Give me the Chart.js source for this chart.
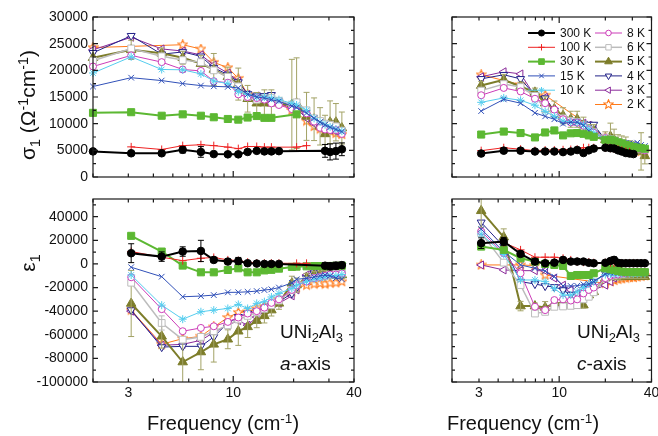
<!DOCTYPE html>
<html>
<head>
<meta charset="utf-8">
<script src="https://cdn.jsdelivr.net/npm/chart.js@4/dist/chart.umd.min.js"></script>
<style>
  html, body { margin: 0; padding: 0; background: #fff; }
  #wrap { position: relative; width: 658px; height: 436px; overflow: hidden;
          font-family: "Liberation Sans", Arial, sans-serif; color: #111; }
  #wrap canvas { position: absolute; left: 0; top: 0; }
  .lbl { position: absolute; white-space: nowrap; line-height: 1; }
  .rot { transform: translate(-50%, -50%) rotate(-90deg); }
  .ctr { transform: translateX(-50%); }
  .sub { font-size: 0.68em; position: relative; top: 0.32em; }
  .sup { font-size: 0.68em; position: relative; top: -0.5em; }
</style>
</head>
<body>
<div id="wrap">
  <canvas id="tl" width="658" height="436"></canvas>
  <canvas id="bl" width="658" height="436"></canvas>
  <canvas id="tr" width="658" height="436"></canvas>
  <canvas id="br" width="658" height="436"></canvas>

  <div class="lbl rot" style="left:27px;top:105px;font-size:21px">σ<span class="sub">1</span> (Ω<span class="sup">-1</span>cm<span class="sup">-1</span>)</div>
  <div class="lbl rot" style="left:27px;top:263px;font-size:21px">ε<span class="sub">1</span></div>
  <div class="lbl ctr" style="left:223px;top:413px;font-size:20px">Frequency (cm<span class="sup">-1</span>)</div>
  <div class="lbl ctr" style="left:523px;top:413px;font-size:20px">Frequency (cm<span class="sup">-1</span>)</div>
  <div class="lbl" style="left:280px;top:322px;font-size:19px">UNi<span class="sub">2</span>Al<span class="sub">3</span></div>
  <div class="lbl" style="left:280px;top:354px;font-size:19px"><i>a</i>-axis</div>
  <div class="lbl" style="left:577px;top:322px;font-size:19px">UNi<span class="sub">2</span>Al<span class="sub">3</span></div>
  <div class="lbl" style="left:577px;top:354px;font-size:19px"><i>c</i>-axis</div>
</div>

<script>
// ─── DATA ────────────────────────────────────────────────────

const TEMPS = ['300 K', '100 K', '30 K', '15 K', '10 K', '8 K', '6 K', '5 K', '4 K', '3 K', '2 K'];

const X_TICK_LABELS = [3, 10, 40];
const X_TICK_MARKS  = [2, 3, 4, 5, 6, 7, 8, 9, 10, 20, 30, 40];
const SIGMA_TICKS   = [0, 5000, 10000, 15000, 20000, 25000, 30000];
const EPS_TICKS     = [-100000, -80000, -60000, -40000, -20000, 0, 20000, 40000];

// a-axis frequencies (cm-1); the first point (2) is the dc value, sigma only
const A_FREQ = [2, 3.1, 4.4, 5.6, 6.9, 8.0, 9.4, 10.6, 11.8, 13.1, 14.3, 15.5, 16.9,
                19.6, 20.7, 23.2, 25.3, 27.1, 28.7, 30.4, 32.5, 34.8];

// a-axis sigma_1
const SA_300 = [4800, 4450, 4450, 5100, 4700, 4300, 4250, 4250, 4700, 4900, 4800, 4800, 4850, null, null, null, null, null, 4900, 4700, 4850, 5200];
const SA_100 = [null, 5650, 5160, 5880, 6050, 5880, 5600, 5320, 5720, 5720, 5600, 5600, null, null, 5600, 5880, null, null, null, null, null, null];
const SA_30  = [12030, 12150, 11490, 11750, 11490, 11200, 10880, 10750, 11150, 11430, 11090, 11090, null, null, 11750, null, null, null, null, null, null, null];
const SA_15  = [16970, 18620, 18080, 17520, 17140, 17000, 16900, 16700, 15500, 15000, 14800, 14500, 14200, 13300, 13000, 12000, 11000, 10300, 9800, 9300, 8900, 8500];
const SA_10  = [19500, 22530, 20160, 20100, 19330, 18000, 17500, 16000, 15500, 15000, 15000, 14800, 14500, 13800, 13500, 12500, 11000, 10300, 9800, 9400, 9000, 8600];
const SA_8   = [20720, 22800, 21540, 20160, 19890, 17960, 17680, 15490, 15000, 14800, 14500, 13800, 13500, 12740, 12500, 11920, 10380, 9230, 8900, 8800, 8800, 8075];
const SA_6   = [21800, 24100, 22630, 21920, 21540, 20000, 18800, 17000, 15000, 14500, 14700, 14800, 14300, 13500, 14000, 12500, 11000, 10500, 10000, 9800, 9500, 8700];
const SA_5   = [22360, 23840, 23190, 22360, 21260, 20160, 18790, 17420, 14670, 13840, 13840, 13840, null, 13560, 13840, 11370, 10830, 9500, 8075, 10270, 10270, 9180];
const SA_4   = [23290, 26480, 23020, 23450, 22630, 20500, 19200, 17800, 15600, 15300, 15200, 15400, 14200, 13500, 13000, 11500, 10500, 10000, 9600, 9200, 8800, 8400];
const SA_3   = [23840, 26200, 24010, 23620, 22900, 21000, 19500, 18000, 15500, 15200, 14500, 14000, 13800, 13000, 12800, 11000, 10000, 9300, 9000, 8800, 8600, 8300];
const SA_2   = [24270, null, null, 24800, 24000, 21500, 20500, 18500, 15500, 15000, 14800, 14500, 14000, 12500, 12000, 10500, 9500, 9000, 8800, 8600, 8200, 8000];
const SA_300_ERR = [0, 400, 400, 600, 1000, 300, 300, 300, 300, 300, 300, 300, 300, 0, 0, 0, 0, 0, 1200, 1500, 1500, 1200];
const SA_5_ERR   = [0, 1800, 1000, 1200, 1500, 3000, 1800, 3000, 2500, 2000, 2500, 2500, 0, 8500, 8500, 4500, 4000, 3500, 3500, 4000, 3500, 3000];

// a-axis epsilon_1
const EA_300 = [null, 9100, 6200, 10500, 11000, 3400, 2000, 2500, 600, 300, 0, 0, 0, null, null, null, null, null, -1500, -2000, -1500, -1000];
const EA_100 = [null, 10500, 5700, 2800, 4800, 5500, 3400, 2800, 1500, 700, 600, 600, 600, null, 500, 500, null, null, null, null, null, null];
const EA_30  = [null, 23800, 10500, -1400, -7100, -7100, -5100, -3700, -7100, -7100, -5500, -5000, -4000, -2500, -2300, -2000, -1800, -1800, -1800, -1700, -1600, -1500];
const EA_15  = [null, -2800, -10800, -27800, -27200, -26400, -24100, -24000, -23600, -23000, -22100, -21500, -20000, -16000, -13000, -12200, -11000, -10000, -9400, -10000, -12000, -13000];
const EA_10  = [null, -9400, -34900, -46800, -40500, -39100, -37700, -34300, -37700, -33400, -32000, -28000, -25000, -20700, -18000, -15000, -13000, -12000, -11000, -10000, -10000, -9000];
const EA_8   = [null, -11300, -38300, -57000, -54200, -52800, -49100, -45400, -42000, -40000, -37000, -33000, -30000, -22000, -18000, -15000, -12000, -11000, -10000, -9000, -9000, -8000];
const EA_6   = [null, -15900, -50000, -64100, -61800, -57000, -52000, -47000, -44000, -41000, -38000, -35000, -31000, -22000, -17000, -14000, -12000, -11000, -10000, -9000, -8500, -8000];
const EA_5   = [null, -33500, -61300, -83100, -74600, -68100, -63800, -57000, -53300, -48000, -44000, -39100, -33400, -16400, -17900, -12000, -9400, -9000, -8500, -9000, -9400, -9400];
const EA_4   = [null, -39100, -70400, -69800, -69800, -61800, -50000, -44800, -42000, -40000, -38000, -35000, -32000, -25000, -20000, -12000, -8000, -6000, -4000, -2000, -1500, -1500];
const EA_3   = [null, -40000, -68900, -68100, -64700, -58000, -51900, -48000, -51900, -45000, -40000, -36300, -33400, -27000, -22000, -9400, -6000, -7000, -8000, -8500, -8000, -7500];
const EA_2   = [null, -39100, -68000, -63300, -61300, -53400, -45400, -41100, -40600, -38000, -36000, -34900, -30000, -23600, -20000, -18000, -17000, -16500, -17000, -16200, -16000, -15000];
const EA_300_ERR = [0, 8000, 4000, 4000, 9000, 2000, 2000, 3000, 1000, 1000, 1000, 1000, 1000, 0, 0, 0, 0, 0, 2500, 3000, 3000, 2500];
const EA_6_ERR   = [0, 0, 6000, 0, 0, 0, 0, 0, 0, 0, 0, 0, 0, 0, 0, 0, 0, 0, 0, 0, 0, 0];
const EA_5_ERR   = [0, 28000, 10000, 20000, 15000, 15000, 8000, 12000, 9000, 6000, 6000, 5000, 5000, 6000, 6000, 4000, 3000, 3000, 3000, 3000, 3000, 3000];

// c-axis frequencies (cm-1)
const C_FREQ = [3.1, 4.35, 5.6, 6.95, 8.1, 9.3, 10.6, 11.9, 13.1, 14.4, 15.6, 16.8,
                20.0, 21.6, 22.8, 24.2, 25.6, 27.2, 28.8, 30.5, 32.3, 34.2, 36.2];

// c-axis sigma_1
const SC_300 = [4400, 4940, 4940, 4780, 4780, 4780, 4670, 4780, 5060, 4500, 5000, 5330, 5490, 5400, 5330, 5000, 4780, 4500, 4400, 4300, null, null, null];
const SC_100 = [4940, 5490, 5210, 4940, 5050, 5050, 5100, 5150, 5200, 5490, 5490, 5490, 5490, 5400, 5300, 5200, 5000, 4800, 4700, null, null, null, null];
const SC_30  = [7960, 8520, 8240, 7420, 8350, 8730, 7800, 8190, 8240, 8100, 7800, 7530, 6970, 7000, 6800, 6500, 6300, 6000, 5800, 5600, 5500, 5400, 5300];
const SC_15  = [12360, 14550, 13840, 12030, 11370, 10830, 10000, 10270, 10270, 9700, 8620, 7800, 7000, 6800, 6600, 6500, 6400, 6400, 6300, 6200, 6430, 6000, 5800];
const SC_10  = [14000, 14830, 14390, 13460, 12300, 11370, 10500, 10300, 10200, 9800, 9000, 8300, 7200, 7000, 6800, 6600, 6400, 6200, 6000, 5800, 5600, 5400, 5200];
const SC_8   = [15330, 16700, 16040, 14670, 13840, 12640, 10830, 10270, 10200, 9600, 8800, 8300, 7300, 7000, 6700, 6400, 6200, 6000, 5800, 5600, 5400, 5200, 5000];
const SC_6   = [16200, 17420, 16860, 15210, 12740, 11920, 11000, 10500, 10300, 9700, 8900, 8400, 7400, 7100, 6800, 6500, 6300, 6100, 5900, 5700, 5500, 5300, 5100];
const SC_5   = [17140, 18240, 16970, 15870, 13840, 12740, 11490, 10830, 10830, 9720, 8620, 8620, 6970, 7600, 6970, 6430, 6200, 6000, 5800, 5600, 5330, 4800, 3960];
const SC_4   = [18400, 19170, 18400, 15330, 14780, 12470, 10550, 10300, 10270, 10000, 9830, 9830, 6970, 7000, 6800, 6500, 6300, 6000, 5800, 5600, 5400, 5200, 5000];
const SC_3   = [18790, 19730, 19330, 15210, 14940, 12300, 10800, 10400, 10300, 10100, 9700, 9500, 7000, 6900, 6700, 6400, 6200, 6000, 5800, 5500, 5300, 5100, 4900];
const SC_2   = [19170, null, 17300, 15330, 15330, null, null, null, null, null, null, null, 7500, 6800, 6500, 6200, 6000, 5800, 5600, 5300, 5000, 4800, 4700];
const SC_5_ERR = [800, 1000, 800, 800, 1200, 1500, 1500, 1500, 1500, 1500, 1200, 1200, 1500, 2500, 2000, 1500, 1500, 1500, 1000, 1000, 1000, 3500, 1500];

// c-axis epsilon_1
const EC_300 = [17600, 19000, 8500, 2000, 600, 1100, 3400, 2000, 2000, 2000, 1000, 600, 1000, 2500, 3400, 1000, 600, 600, 600, 600, 600, 600, 600];
const EC_100 = [18100, 18100, 11900, 5700, 5700, 5700, 4800, 3400, 2000, 1500, 1500, 1000, 1000, 1000, 800, 800, 600, 600, 600, 600, 600, 600, 600];
const EC_30  = [14700, 11900, 4800, 2000, 0, -850, -1700, -10200, -9400, -9400, -9400, -7900, -3700, -4500, -5000, -6000, -6500, -7000, -7000, -7000, -7000, -7000, -7000];
const EC_15  = [29500, 10500, -850, -3700, -6000, -10800, -18700, -18700, -18500, -17300, -17000, -15000, -8500, -7500, -7500, -7500, -7500, -7800, -8000, -8000, -8000, -8000, -8000];
const EC_10  = [25300, 8000, -13600, -13600, -15000, -20700, -26400, -26400, -23600, -20000, -17000, -15000, -9000, -8500, -8500, -8300, -8000, -8000, -8000, -8000, -8000, -8000, -8000];
const EC_8   = [27500, 9100, -7900, -36300, -39100, -30600, -30000, -31000, -30000, -25000, -22000, -20000, -12000, -10000, -9000, -9000, -8000, -8000, -7500, -7000, -7000, -7000, -7000];
const EC_6   = [26100, 1100, -17900, -42000, -40600, -36300, -36000, -35500, -34900, -30000, -27800, -24000, -12000, -10000, -9500, -9000, -8500, -8000, -8000, -7500, -7500, -7000, -7000];
const EC_5   = [45000, 22700, -35700, -35700, -36900, -33500, -32900, -34900, -34900, -34900, -26400, -23600, -12000, -10000, -11000, -11000, -11000, -10800, -10800, -10800, -10800, -10800, -10800];
const EC_4   = [35200, 14700, -15000, -17000, -18700, -19500, -22100, -26000, -33500, -25000, -20000, -15000, -8000, -6000, -7000, -7500, -8000, -8000, -7500, -7000, -7000, -7000, -7000];
const EC_3   = [-850, -5100, -5700, -5700, -5700, -12000, -18000, -22000, -25000, -26000, -24000, -22000, -18000, -15000, -12000, -10000, -9000, -8500, -8000, -8000, -7500, -7500, -7500];
const EC_2   = [-850, null, -850, -1400, -9400, null, null, null, null, null, null, null, -16400, -15000, -14000, -13000, -12500, -12000, -11500, -11500, -11000, -10500, -10000];
const EC_300_ERR = [4500, 3500, 1500, 0, 0, 0, 1500, 0, 0, 0, 0, 0, 0, 0, 2500, 0, 0, 0, 0, 0, 0, 0, 0];
const EC_5_ERR   = [14000, 7000, 4000, 2500, 5000, 3000, 2000, 2000, 2500, 2500, 2500, 2500, 2000, 2000, 2000, 2000, 1500, 1500, 1500, 1500, 1500, 1500, 1500];

// ─── STYLES ──────────────────────────────────────────────────

const FONT = '"Liberation Sans", Arial, sans-serif';
Chart.defaults.font.family = FONT;
Chart.defaults.color = '#111';

function makeStar(color, size) {
    const c = document.createElement('canvas');
    c.width = c.height = size;
    const g = c.getContext('2d');
    const R = size / 2 - 0.8, r = R * 0.45;
    g.beginPath();
    for (let i = 0; i < 10; i++) {
        const a = -Math.PI / 2 + i * Math.PI / 5;
        const rr = i % 2 ? r : R;
        g.lineTo(size / 2 + rr * Math.cos(a), size / 2 + rr * Math.sin(a));
    }
    g.closePath();
    g.fillStyle = '#fff';
    g.fill();
    g.strokeStyle = color;
    g.lineWidth = 1.1;
    g.stroke();
    return c;
}

const STYLE = {
    '300 K': { color: '#000000', fill: '#000000', point: 'circle',   r: 3.8, lw: 2 },
    '100 K': { color: '#ee2222', fill: '#ee2222', point: 'cross',    r: 4,   lw: 1 },
    '30 K':  { color: '#5cb832', fill: '#5cb832', point: 'rect',     r: 5,   lw: 2 },
    '15 K':  { color: '#3050b8', fill: '#3050b8', point: 'crossRot', r: 4,   lw: 1 },
    '10 K':  { color: '#55cdee', fill: '#55cdee', point: 'star',     r: 4,   lw: 1 },
    '8 K':   { color: '#cc3cb8', fill: '#ffffff', point: 'circle',   r: 3.5, lw: 1 },
    '6 K':   { color: '#bcbcbc', fill: '#ffffff', point: 'rect',     r: 4.8, lw: 1.5 },
    '5 K':   { color: '#7d7d2a', fill: '#7d7d2a', point: 'triangle', r: 5.5, lw: 2, err: '#a3a366' },
    '4 K':   { color: '#222288', fill: '#ffffff', point: 'triangle', r: 4.6, lw: 1, rot: 180 },
    '3 K':   { color: '#8a2a9a', fill: '#ffffff', point: 'triangle', r: 4.6, lw: 1, rot: -90 },
    '2 K':   { color: '#ff7a1a', fill: '#ffffff', point: makeStar('#ff7a1a', 11), r: 5, lw: 1 },
};

// ─── PLUGINS ─────────────────────────────────────────────────

// Box frame with inward ticks on all four sides
const framePlugin = {
    id: 'frame',
    afterDatasetsDraw(chart, args, opts) {
        const { ctx, chartArea: a, scales: { x, y } } = chart;
        ctx.save();
        ctx.strokeStyle = '#1a1a1a';
        ctx.lineWidth = 1.2;
        ctx.strokeRect(a.left, a.top, a.right - a.left, a.bottom - a.top);
        ctx.beginPath();
        X_TICK_MARKS.forEach(v => {
            const px = x.getPixelForValue(v);
            const len = v === 10 ? 6 : 3.5;
            ctx.moveTo(px, a.bottom); ctx.lineTo(px, a.bottom - len);
            ctx.moveTo(px, a.top);    ctx.lineTo(px, a.top + len);
        });
        for (let v = y.min; v <= y.max; v += opts.minorStep) {
            const py = y.getPixelForValue(v);
            const len = opts.major.includes(v) ? 5 : 3;
            ctx.moveTo(a.left, py);  ctx.lineTo(a.left + len, py);
            ctx.moveTo(a.right, py); ctx.lineTo(a.right - len, py);
        }
        ctx.stroke();
        ctx.restore();
    }
};

// Vertical error bars, drawn right after their own series
const errorBarPlugin = {
    id: 'errorBars',
    afterDatasetDraw(chart, args) {
        const ds = chart.data.datasets[args.index];
        if (!ds.errors) return;
        const { ctx, chartArea: a, scales: { x, y } } = chart;
        ctx.save();
        ctx.beginPath();
        ctx.rect(a.left, a.top, a.right - a.left, a.bottom - a.top);
        ctx.clip();
        ctx.strokeStyle = ds.errorColor;
        ctx.lineWidth = 1;
        ctx.beginPath();
        ds.data.forEach((p, k) => {
            const e = ds.errors[k];
            if (p.y == null || !e) return;
            const px = x.getPixelForValue(p.x);
            const y1 = y.getPixelForValue(p.y - e);
            const y2 = y.getPixelForValue(p.y + e);
            ctx.moveTo(px, y1); ctx.lineTo(px, y2);
            ctx.moveTo(px - 3, y1); ctx.lineTo(px + 3, y1);
            ctx.moveTo(px - 3, y2); ctx.lineTo(px + 3, y2);
        });
        ctx.stroke();
        ctx.restore();
    }
};

// Two-column legend inside the plot: line + marker + label
const legendPlugin = {
    id: 'tempLegend',
    afterDraw(chart, args, opts) {
        if (!opts.show) return;
        const { ctx } = chart;
        ctx.save();
        ctx.font = '12px ' + FONT;
        ctx.textBaseline = 'middle';
        chart.data.datasets.forEach((ds, i) => {
            const col = i < 5 ? 0 : 1;
            const row = i < 5 ? i : i - 5;
            const x0 = opts.cols[col];
            const y0 = opts.top + row * opts.rowGap;
            ctx.strokeStyle = ds.borderColor;
            ctx.lineWidth = ds.borderWidth;
            ctx.beginPath();
            ctx.moveTo(x0, y0);
            ctx.lineTo(x0 + opts.lineLen, y0);
            ctx.stroke();
            ctx.fillStyle = ds.pointBackgroundColor;
            ctx.strokeStyle = ds.pointBorderColor;
            ctx.lineWidth = 1;
            Chart.helpers.drawPoint(ctx, {
                pointStyle: ds.pointStyle, rotation: ds.pointRotation,
                radius: ds.pointRadius * 0.8, borderWidth: 1,
            }, x0 + opts.lineLen / 2, y0);
            ctx.fillStyle = '#111';
            ctx.fillText(ds.label, x0 + opts.lineLen + 5, y0 + 0.5);
        });
        ctx.restore();
    }
};

// ─── PANELS ──────────────────────────────────────────────────

function buildDatasets(freq, series, errMap) {
    return TEMPS.map((t, i) => {
        const st = STYLE[t];
        return {
            label: t,
            data: freq.map((f, k) => ({ x: f, y: series[i][k] })),
            errors: errMap[t] || null,
            errorColor: st.err || st.color,
            borderColor: st.color,
            backgroundColor: st.fill,
            borderWidth: st.lw,
            pointStyle: st.point,
            pointRotation: st.rot || 0,
            pointRadius: st.r,
            pointBackgroundColor: st.fill,
            pointBorderColor: st.color,
            pointBorderWidth: 1,
            spanGaps: true,
            tension: 0,
            clip: false,
        };
    });
}

function makePanel(id, cfg) {
    const tickFont = { size: 14, family: FONT };
    new Chart(document.getElementById(id), {
        type: 'line',
        data: { datasets: buildDatasets(cfg.freq, cfg.series, cfg.errors) },
        options: {
            responsive: false,
            animation: false,
            events: [],
            devicePixelRatio: 1,
            layout: { padding: cfg.padding },
            plugins: {
                legend: { display: false },
                tooltip: { enabled: false },
                frame: { major: cfg.yTicks, minorStep: cfg.minorStep },
                tempLegend: { show: !!cfg.legend, cols: [528, 595], top: 33, rowGap: 14.3, lineLen: 27 },
            },
            scales: {
                x: {
                    type: 'logarithmic',
                    min: 2,
                    max: 40,
                    display: cfg.showX,
                    afterBuildTicks: s => { s.ticks = X_TICK_LABELS.map(v => ({ value: v })); },
                    afterFit: s => { s.height = 22; s.paddingLeft = 0; s.paddingRight = 0; },
                    ticks: { callback: v => String(v), font: tickFont, color: '#111',
                             maxRotation: 0, autoSkip: false, padding: 3 },
                    grid: { display: false, drawTicks: false },
                    border: { display: false },
                },
                y: {
                    type: 'linear',
                    min: cfg.yMin,
                    max: cfg.yMax,
                    display: cfg.showY,
                    afterBuildTicks: s => { s.ticks = cfg.yTicks.map(v => ({ value: v })); },
                    afterFit: s => { s.width = 60; s.paddingTop = 0; s.paddingBottom = 0; },
                    ticks: { callback: v => String(v), font: tickFont, color: '#111', padding: 5 },
                    grid: { display: false, drawTicks: false },
                    border: { display: false },
                },
            },
        },
        plugins: [errorBarPlugin, framePlugin, legendPlugin],
    });
}

const SIGMA_AXIS = { yMin: 0, yMax: 30000, yTicks: SIGMA_TICKS, minorStep: 2500 };
const EPS_AXIS   = { yMin: -100000, yMax: 55000, yTicks: EPS_TICKS, minorStep: 10000 };

makePanel('tl', {
    ...SIGMA_AXIS, freq: A_FREQ, showX: false, showY: true,
    series: [SA_300, SA_100, SA_30, SA_15, SA_10, SA_8, SA_6, SA_5, SA_4, SA_3, SA_2],
    errors: { '300 K': SA_300_ERR, '5 K': SA_5_ERR },
    padding: { left: 33, right: 304, top: 17, bottom: 237 },
});

makePanel('bl', {
    ...EPS_AXIS, freq: A_FREQ, showX: true, showY: true,
    series: [EA_300, EA_100, EA_30, EA_15, EA_10, EA_8, EA_6, EA_5, EA_4, EA_3, EA_2],
    errors: { '300 K': EA_300_ERR, '6 K': EA_6_ERR, '5 K': EA_5_ERR },
    padding: { left: 33, right: 304, top: 199, bottom: 32 },
});

makePanel('tr', {
    ...SIGMA_AXIS, freq: C_FREQ, showX: false, showY: false, legend: true,
    series: [SC_300, SC_100, SC_30, SC_15, SC_10, SC_8, SC_6, SC_5, SC_4, SC_3, SC_2],
    errors: { '5 K': SC_5_ERR },
    padding: { left: 392, right: 6, top: 17, bottom: 237 },
});

makePanel('br', {
    ...EPS_AXIS, freq: C_FREQ, showX: true, showY: false,
    series: [EC_300, EC_100, EC_30, EC_15, EC_10, EC_8, EC_6, EC_5, EC_4, EC_3, EC_2],
    errors: { '300 K': EC_300_ERR, '5 K': EC_5_ERR },
    padding: { left: 392, right: 6, top: 199, bottom: 32 },
});
</script>
</body>
</html>
